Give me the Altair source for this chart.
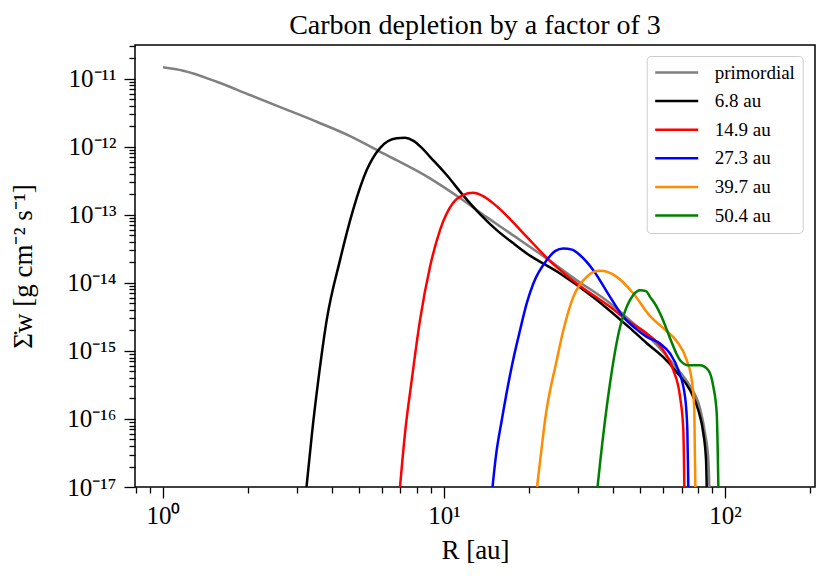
import altair as alt
import pandas as pd

# ---- data (R in au, Sigma_dot_w in g cm^-2 s^-1) ----
series_names = ["primordial", "6.8 au", "14.9 au", "27.3 au", "39.7 au", "50.4 au"]
series_colors = ["#808080", "#000000", "#ff0000", "#0000ff", "#ff8c00", "#008000"]

prim_R = [1.000, 1.181, 1.553, 2.040, 2.680, 3.524, 4.630, 6.081, 8.916, 11.40, 14.19,
          17.17, 22.57, 29.67, 38.97, 47.17, 54.10, 60.31, 67.32, 75.07, 81.47, 84.88,
          87.22, 87.94]
prim_S = [1.472e-11, 1.311e-11, 9.03e-12, 5.76e-12, 3.67e-12, 2.33e-12, 1.437e-12, 7.99e-13,
          3.43e-13, 1.761e-13, 9.25e-14, 5.38e-14, 2.47e-14, 1.096e-14, 5.03e-15, 2.55e-15,
          1.538e-15, 9.57e-16, 5.57e-16, 3.03e-16, 1.437e-16, 6.16e-17, 2.47e-17, 1.0e-17]

p1_R = [3.241, 3.390, 3.570, 3.824, 4.265, 4.745, 5.308, 5.918, 6.787, 7.264, 7.757, 8.284,
        8.916, 10.22, 11.68, 13.43, 15.40, 17.61, 19.70, 25.87, 33.99, 45.91, 52.66, 60.31,
        67.32, 75.07, 80.35, 83.71, 85.59, 86.08]
p1_S = [1.0e-17, 6.16e-17, 3.71e-16, 2.83e-15, 2.16e-14, 1.173e-13, 4.54e-13, 9.57e-13,
        1.329e-12, 1.352e-12, 1.233e-12, 9.90e-13, 7.12e-13, 3.84e-13, 1.949e-13, 1.024e-13,
        5.96e-14, 3.84e-14, 2.71e-14, 1.375e-14, 6.16e-15, 2.16e-15, 1.298e-15, 8.08e-16,
        4.86e-16, 2.64e-16, 1.342e-16, 6.16e-17, 2.47e-17, 1.0e-17]

p2_R = [6.972, 7.264, 7.675, 8.214, 8.916, 9.678, 10.76, 11.68, 12.68, 13.77, 14.94, 16.09,
        17.31, 19.70, 24.49, 29.67, 38.97, 45.91, 52.66, 60.31, 65.47, 69.18, 71.06, 71.65]
p2_S = [1.0e-17, 6.16e-17, 3.71e-16, 2.83e-15, 1.719e-14, 5.96e-14, 1.486e-13, 1.949e-13,
        2.107e-13, 1.884e-13, 1.486e-13, 1.133e-13, 8.36e-14, 4.75e-14, 1.884e-14, 9.80e-15,
        4.44e-15, 2.64e-15, 1.803e-15, 1.024e-15, 5.20e-16, 2.11e-16, 6.82e-17, 1.0e-17]

p3_R = [14.88, 15.31, 16.05, 17.61, 18.64, 19.70, 20.79, 23.21, 24.83, 26.58, 28.55, 30.48,
        33.99, 38.97, 43.46, 47.83, 52.66, 58.72, 63.72, 68.21, 72.06, 73.43, 74.04]
p3_S = [1.0e-17, 2.92e-17, 9.57e-17, 7.30e-16, 2.01e-15, 5.03e-15, 9.80e-15, 2.16e-14,
        2.93e-14, 3.21e-14, 3.08e-14, 2.55e-14, 1.538e-14, 6.22e-15, 3.16e-15, 2.16e-15,
        1.607e-15, 1.285e-15, 9.16e-16, 5.20e-16, 2.11e-16, 6.82e-17, 1.0e-17]

p4_R = [21.43, 22.14, 22.88, 25.18, 26.58, 28.85, 32.20, 33.90, 35.91, 38.34, 41.18, 47.17,
        54.10, 60.31, 67.32, 73.07, 76.13, 77.75, 78.40]
p4_S = [1.0e-17, 3.13e-17, 9.57e-17, 7.30e-16, 2.01e-15, 6.22e-15, 1.225e-14, 1.437e-14,
        1.501e-14, 1.437e-14, 1.225e-14, 6.98e-15, 3.24e-15, 2.16e-15, 1.389e-15, 7.30e-16,
        3.71e-16, 1.342e-16, 1.0e-17]

p5_R = [35.18, 35.91, 38.97, 42.30, 44.69, 47.05, 49.83, 52.35, 54.10, 57.15, 60.18, 63.72,
        69.18, 74.04, 81.47, 87.22, 90.88, 93.43, 94.67]
p5_S = [1.0e-17, 2.23e-17, 3.35e-16, 2.25e-15, 4.44e-15, 6.59e-15, 7.81e-15, 7.55e-15,
        6.22e-15, 4.44e-15, 2.83e-15, 1.538e-15, 7.30e-16, 6.16e-16, 6.16e-16, 5.20e-16,
        2.96e-16, 1.200e-16, 1.0e-17]

x_domain = [0.795, 209.0]
y_domain = [1.0e-17, 3.13e-11]

x_major = [1, 10, 100]
x_major_labels = ["10⁰", "10¹", "10²"]
x_minor = [0.8, 0.9, 2, 3, 4, 5, 6, 7, 8, 9, 20, 30, 40, 50, 60, 70, 80, 90, 200]

y_major = [1e-17, 1e-16, 1e-15, 1e-14, 1e-13, 1e-12, 1e-11]
y_major_labels = ["10⁻¹⁷", "10⁻¹⁶", "10⁻¹⁵", "10⁻¹⁴", "10⁻¹³", "10⁻¹²", "10⁻¹¹"]
y_minor = [float(f"{m}e{e}") for e in range(-17, -11) for m in range(2, 10)] + [2e-11, 3e-11]

title_text = "Carbon depletion by a factor of 3"
x_title = "R [au]"
y_title = "Σ̇w [g cm⁻² s⁻¹]"

# ---- build table ----
rows = []
for name, R, S in zip(series_names,
                      [prim_R, p1_R, p2_R, p3_R, p4_R, p5_R],
                      [prim_S, p1_S, p2_S, p3_S, p4_S, p5_S]):
    for i, (r, s) in enumerate(zip(R, S)):
        rows.append({"series": name, "R": r, "S": s, "i": i})
df = pd.DataFrame(rows)

FONT = "Liberation Serif"


def label_expr(values, labels):
    parts = [f"datum.value == {v!r} ? '{l}'" for v, l in zip(values, labels)]
    return " : ".join(parts) + " : ''"


def major_test(values):
    return " || ".join(f"datum.value == {v!r}" for v in values)


x_axis = alt.Axis(
    values=x_major + x_minor,
    labelExpr=label_expr(x_major, x_major_labels),
    tickSize={"condition": {"test": major_test(x_major), "value": 11}, "value": 6},
    tickWidth=1.3, tickColor="black", domain=False, grid=False,
    labelFont=FONT, labelFontSize=25, labelColor="black", labelPadding=5,
    labelOverlap=False, labelFlush=False, labelBound=False,
    title=x_title, titleFont=FONT, titleFontSize=27, titleFontWeight="normal",
    titleColor="black", titleBaseline="alphabetic", titleY=71,
)
y_axis = alt.Axis(
    values=y_major + y_minor,
    labelExpr=label_expr(y_major, y_major_labels),
    tickSize={"condition": {"test": major_test(y_major), "value": 11}, "value": 6},
    tickWidth=1.3, tickColor="black", domain=False, grid=False,
    labelFont=FONT, labelFontSize=25, labelColor="black", labelPadding=8,
    labelOverlap=False, labelFlush=False, labelBound=False, labelBaseline="middle",
    title=y_title, titleFont=FONT, titleFontSize=27, titleFontWeight="normal",
    titleColor="black", titleX=-112, titleBaseline="middle", titleAngle=270,
)

chart = alt.Chart(df).mark_line(strokeWidth=2.5, clip=True, interpolate="monotone").encode(
    x=alt.X("R:Q", scale=alt.Scale(type="log", domain=x_domain, nice=False), axis=x_axis),
    y=alt.Y("S:Q", scale=alt.Scale(type="log", domain=y_domain, nice=False), axis=y_axis),
    color=alt.Color(
        "series:N",
        scale=alt.Scale(domain=series_names, range=series_colors),
        legend=alt.Legend(
            title=None, orient="none", legendX=511.7, legendY=11,
            symbolType="stroke", symbolSize=1849, symbolStrokeWidth=2.5,
            labelFont=FONT, labelFontSize=19, labelColor="black", labelOffset=15,
            padding=7, rowPadding=8.6, clipHeight=19,
            strokeColor="#cccccc", fillColor="white", cornerRadius=4,
        ),
    ),
    order="i:Q",
    detail="series:N",
).properties(
    width=680, height=442,
    background="white",
    title=alt.TitleParams(title_text, font=FONT, fontSize=28, fontWeight="normal",
                          color="black", anchor="middle", frame="group",
                          baseline="alphabetic", offset=10, dy=38),
    padding={"left": 127, "top": 37, "right": 5, "bottom": 80},
    autosize=alt.AutoSizeParams(type="none"),
).configure_view(stroke="black", strokeWidth=1.5)

chart.save("out.html", embed_options={"renderer": "svg", "actions": False})
